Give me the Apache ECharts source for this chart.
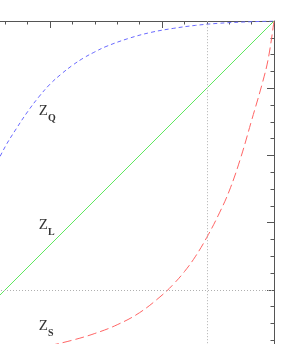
<!DOCTYPE html>
<html>
<head>
<meta charset="utf-8">
<script src="https://cdn.jsdelivr.net/npm/echarts@6/dist/echarts.min.js"></script>
<style>
html,body{margin:0;padding:0;background:#fff;}
#c{width:295px;height:344px;}
</style>
</head>
<body>
<div id="c"></div>
<script>
// Z_Q curve (concave, blue short dashes)
const zqX = [0.5, 0.6, 0.7, 0.8, 0.9, 1.0, 1.1, 1.2, 1.3, 1.4, 1.5, 1.7, 1.9, 2.1, 2.3, 2.5, 2.7, 3.0];
const zqY = [3.80, 4.13, 4.40, 4.65, 4.87, 5.06, 5.21, 5.34, 5.45, 5.54, 5.62, 5.74, 5.83, 5.89, 5.935, 5.965, 5.983, 6.0];
// Z_L line (green, solid)
const zlX = [0, 3];
const zlY = [1, 6];
// Z_S curve (convex, red long dashes)
const zsX = [1.0, 1.2, 1.4, 1.6, 1.8, 2.0, 2.1, 2.2, 2.3, 2.4, 2.5, 2.6, 2.7, 2.8, 2.9, 2.95, 3.0];
const zsY = [1.17, 1.25, 1.35, 1.48, 1.66, 1.92, 2.08, 2.27, 2.50, 2.78, 3.10, 3.47, 3.95, 4.52, 5.10, 5.45, 6.0];
// reference lines
const refX = 2.4;
const refY = 2;
// curve labels
const labelSubs = ['Q', 'L', 'S'];
const labelX = [0.9, 0.9, 0.9];
const labelY = [4.63, 2.93, 1.43];

const pairs = (xs, ys) => xs.map((x, i) => [x, ys[i]]);

const chart = echarts.init(document.getElementById('c'), null, {renderer: 'canvas'});
const axisColor = '#555';
chart.setOption({
  animation: false,
  backgroundColor: '#fff',
  grid: {left: -62, right: 21, top: 21, bottom: -80.2, outerBoundsMode: 'none', containLabel: false},
  xAxis: {
    type: 'value', position: 'top', min: 0, max: 3, interval: 1,
    axisLine: {show: true, onZero: false, lineStyle: {color: axisColor, width: 1}},
    axisTick: {show: true, inside: true, length: 7, lineStyle: {color: axisColor}},
    minorTick: {show: true, splitNumber: 5, length: 3.5, lineStyle: {color: axisColor}},
    axisLabel: {show: false},
    splitLine: {show: false}
  },
  yAxis: {
    type: 'value', position: 'right', min: 0, max: 6, interval: 1,
    axisLine: {show: true, onZero: false, lineStyle: {color: axisColor, width: 1}},
    axisTick: {show: true, inside: true, length: 7, lineStyle: {color: axisColor}},
    minorTick: {show: true, splitNumber: 4, length: 3.5, lineStyle: {color: axisColor}},
    axisLabel: {show: false},
    splitLine: {show: false}
  },
  series: [
    {
      type: 'line', data: pairs(zqX, zqY), smooth: 0.4, showSymbol: false,
      lineStyle: {color: '#6a6aff', width: 1, type: [4, 3]},
      markLine: {
        silent: true, symbol: 'none', label: {show: false},
        lineStyle: {color: '#b0b0b0', width: 1, type: [1, 2]},
        data: [{xAxis: refX}, {yAxis: refY}]
      }
    },
    {
      type: 'line', data: pairs(zlX, zlY), showSymbol: false,
      lineStyle: {color: '#5fe85f', width: 1, type: 'solid'}
    },
    {
      type: 'line', data: pairs(zsX, zsY), smooth: 0.4, showSymbol: false,
      lineStyle: {color: '#ff6464', width: 1, type: [9, 4]}
    },
    {
      type: 'scatter', symbolSize: 0, silent: true,
      data: labelSubs.map((s, i) => [labelX[i], labelY[i], s]),
      label: {
        show: true, position: 'right', distance: 0,
        formatter: p => '{z|Z}{s|' + p.value[2] + '}',
        rich: {
          z: {fontFamily: 'Liberation Serif', fontSize: 15, color: '#000', lineHeight: 20, verticalAlign: 'top'},
          s: {fontFamily: 'Liberation Serif', fontSize: 10, fontWeight: 'bold', color: '#000', lineHeight: 8, verticalAlign: 'bottom'}
        }
      }
    }
  ]
});
</script>
</body>
</html>
